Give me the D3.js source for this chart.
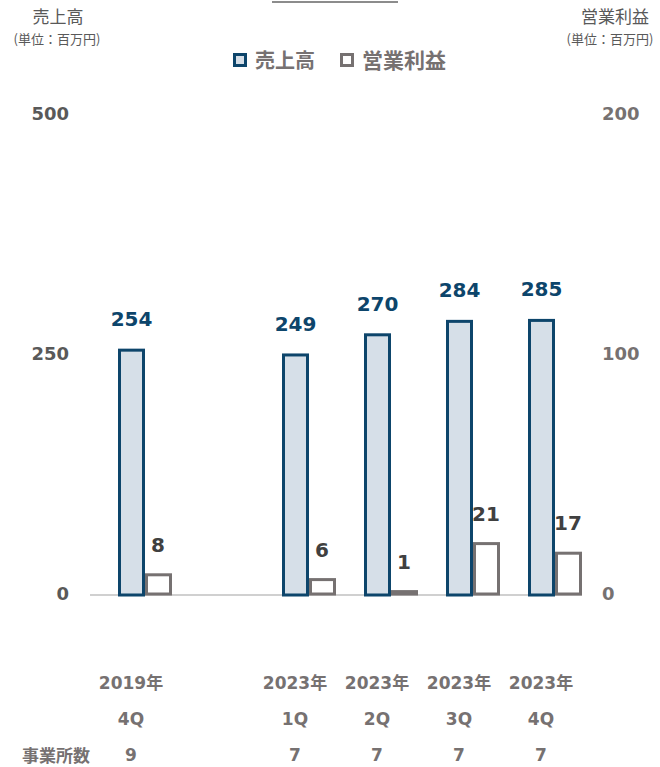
<!DOCTYPE html>
<html>
<head>
<meta charset="utf-8">
<script src="https://cdn.jsdelivr.net/npm/d3@7"></script>
<style>
  body { margin: 0; background: #fff; }
  text { font-family: "DejaVu Sans", "Noto Sans CJK JP", sans-serif; }
  .jp { font-family: "Noto Sans CJK JP", sans-serif; }
</style>
</head>
<body>
<div id="chart"></div>
<script>
// periods (empty slot = gap between 2019 and 2023)
var periods  = ["2019-4Q", "gap", "2023-1Q", "2023-2Q", "2023-3Q", "2023-4Q"];
var yearLbl  = ["2019年", "", "2023年", "2023年", "2023年", "2023年"];
var qLbl     = ["4Q", "", "1Q", "2Q", "3Q", "4Q"];
var sites    = ["9", "", "7", "7", "7", "7"];
var sales    = [254, null, 249, 270, 284, 285];
var profit   = [8, null, 6, 1, 21, 17];
var salesTicks  = [0, 250, 500];
var profitTicks = [0, 100, 200];

var W = 660, H = 767;
var blue = "#0d456b", gray = "#767171", dark = "#595959";

var svg = d3.select("#chart").append("svg")
        .attr("width", W)
        .attr("height", H);

var x = d3.scaleBand().domain(periods).range([90, 582]);
var yL = d3.scaleLinear().domain([0, 500]).range([594, 114]);
var yR = d3.scaleLinear().domain([0, 200]).range([594, 114]);

// little line at the very top
svg.append("line")
        .attr("x1", 272).attr("x2", 398)
        .attr("y1", 2).attr("y2", 2)
        .style("stroke", "#8c8c8c").style("stroke-width", 2);

// axis titles
svg.append("text").attr("class", "jp").attr("x", 58).attr("y", 23).attr("text-anchor", "middle")
        .style("font-size", "17px").style("fill", dark).text("売上高");
svg.append("text").attr("class", "jp").attr("x", 57).attr("y", 44).attr("text-anchor", "middle")
        .style("font-size", "13px").style("fill", dark).text("(単位：百万円)");
svg.append("text").attr("class", "jp").attr("x", 615).attr("y", 23).attr("text-anchor", "middle")
        .style("font-size", "17px").style("fill", dark).text("営業利益");
svg.append("text").attr("class", "jp").attr("x", 610).attr("y", 44).attr("text-anchor", "middle")
        .style("font-size", "13px").style("fill", dark).text("(単位：百万円)");

// legend
var leg = svg.append("g");
leg.append("rect").attr("x", 234.5).attr("y", 54.5).attr("width", 11).attr("height", 11)
        .style("fill", "#d6dfe8").style("stroke", blue).style("stroke-width", 3);
leg.append("text").attr("class", "jp").attr("x", 255).attr("y", 68).style("font-size", "20px")
        .style("font-weight", "bold").style("fill", gray).text("売上高");
leg.append("rect").attr("x", 341.5).attr("y", 54.5).attr("width", 11).attr("height", 11)
        .style("fill", "#fff").style("stroke", gray).style("stroke-width", 3);
leg.append("text").attr("class", "jp").attr("x", 362).attr("y", 68).style("font-size", "21px")
        .style("font-weight", "bold").style("fill", gray).text("営業利益");

// tick labels
svg.selectAll(".tl").data(salesTicks).enter().append("text")
        .attr("x", 69).attr("y", function(d) { return yL(d) + 6; })
        .attr("text-anchor", "end")
        .style("font-size", "18px").style("font-weight", "bold").style("fill", dark)
        .text(function(d) { return d; });
svg.selectAll(".tr").data(profitTicks).enter().append("text")
        .attr("x", 602).attr("y", function(d) { return yR(d) + 6; })
        .style("font-size", "18px").style("font-weight", "bold").style("fill", gray)
        .text(function(d) { return d; });

// baseline
svg.append("line")
        .attr("x1", x.range()[0]).attr("x2", x.range()[1])
        .attr("y1", yL(0) + 1).attr("y2", yL(0) + 1)
        .style("stroke", "#d0d0d0").style("stroke-width", 2);

var rows = periods.map(function(p, i) {
        return { p: p, s: sales[i], o: profit[i], yr: yearLbl[i], q: qLbl[i], n: sites[i] };
});
var data = rows.filter(function(d) { return d.s != null; });

// sales bars
svg.selectAll(".sb").data(data).enter().append("rect")
        .attr("x", function(d) { return x(d.p) + 29.5; })
        .attr("width", 24)
        .attr("y", function(d) { return yL(d.s); })
        .attr("height", function(d) { return yL(0) - yL(d.s) + 1; })
        .style("fill", "#d6dfe8").style("stroke", blue).style("stroke-width", 3);

// profit bars
svg.selectAll(".pb").data(data).enter().append("rect")
        .attr("x", function(d) { return x(d.p) + 56.5; })
        .attr("width", 24)
        .attr("y", function(d) { return yR(d.o); })
        .attr("height", function(d) { return yR(0) - yR(d.o); })
        .style("fill", "#fff").style("stroke", gray).style("stroke-width", 3);

// value labels
svg.selectAll(".sv").data(data).enter().append("text")
        .attr("x", function(d) { return x(d.p) + 41.5; })
        .attr("y", function(d) { return yL(d.s) - 24; })
        .attr("text-anchor", "middle")
        .style("font-size", "20px").style("font-weight", "bold").style("fill", blue)
        .text(function(d) { return d.s; });
svg.selectAll(".pv").data(data).enter().append("text")
        .attr("x", function(d) { return x(d.p) + 68; })
        .attr("y", function(d) { return yR(d.o) - 23; })
        .attr("text-anchor", "middle")
        .style("font-size", "20px").style("font-weight", "bold").style("fill", "#404040")
        .text(function(d) { return d.o; });

// category rows
function catRow(key, yy) {
        svg.selectAll(".c" + key).data(data).enter().append("text")
                .attr("x", function(d) { return x(d.p) + 41; })
                .attr("y", yy)
                .attr("text-anchor", "middle")
                .style("font-size", "17px").style("font-weight", "bold").style("fill", gray)
                .text(function(d) { return d[key]; });
}
catRow("yr", 689);
catRow("q", 725);
catRow("n", 761);

svg.append("text").attr("class", "jp").attr("x", 22).attr("y", 762)
        .style("font-size", "17px").style("font-weight", "bold").style("fill", gray)
        .text("事業所数");
</script>
</body>
</html>
